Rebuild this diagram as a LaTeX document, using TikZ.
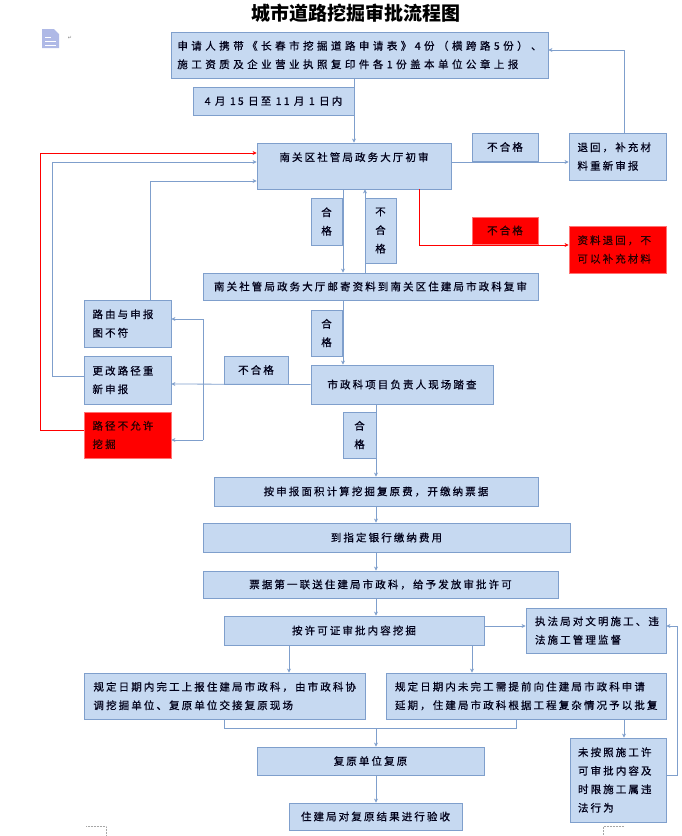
\documentclass[tikz,border=0pt]{standalone}
\usepackage{fontspec}
\setmainfont{Noto Sans CJK SC}
\newfontfamily\cjk{Noto Sans CJK SC}
\newfontfamily\cjkspaced[LetterSpace=20,FakeBold=0.6]{Noto Sans CJK SC}
\newfontfamily\cjkwide[LetterSpace=33,FakeBold=0.6]{Noto Sans CJK SC}
\newfontfamily\symb{DejaVu Sans}
\usetikzlibrary{arrows.meta}
\definecolor{boxfill}{HTML}{C6D9F1}
\definecolor{boxline}{HTML}{7F9FCC}
\definecolor{flowline}{HTML}{7F9FCC}
\definecolor{iconblue}{HTML}{AFB9E6}

\begin{document}
\begin{tikzpicture}[x=1pt,y=-1pt,
    stage/.style={draw=boxline, fill=boxfill, line width=0.8pt, inner sep=0pt,
      font=\cjkspaced\fontsize{10.5}{18.5}\selectfont, text=black!90!blue, align=center},
    alarm/.style={stage, draw=red!55!white, fill=red, text=black!85!red},
    line/.style={draw=flowline, line width=0.8pt},
    flow/.style={line, -{Stealth[length=4pt,width=4pt]}},
    redflow/.style={flow, draw=red},
    cropmark/.style={draw=gray!70, densely dotted, line width=0.5pt}]
    \useasboundingbox (0,0) rectangle (681,836);
    % Title and page icon
    \node[font=\cjk\bfseries\fontsize{19}{22}\selectfont] (title) at (356,13) {城市道路挖掘审批流程图};
    \fill[iconblue] (42,29) -- (54,29) -- (59,34) -- (59,48) -- (42,48) -- cycle;
    \draw[white, line width=1pt] (45,37) -- (51,37) (45,41) -- (56,41) (45,45) -- (56,45);
    \node[font=\symb\fontsize{5}{6}\selectfont, text=gray] (mark) at (70,38) {↵};
    % Application
    \node[stage, font=\cjkwide\fontsize{10.5}{18.5}\selectfont, minimum width=377, minimum height=46, align=left] (apply) at (359.5,55)
      {申请人携带《长春市挖掘道路申请表》4份（横跨路5份）、\\施工资质及企业营业执照复印件各1份盖本单位公章上报};
    \node[stage, minimum width=161, minimum height=28] (period) at (273.5,101) {4 月 15 日至 11 月 1 日内};
    % First check
    \node[stage, minimum width=194, minimum height=46] (firstcheck) at (354,166) {南关区社管局政务大厅初审\\\mbox{}};
    \node[stage, minimum width=66, minimum height=28] (failA) at (505,147) {不合格};
    \node[stage, minimum width=97, minimum height=47, text width=80, align=left] (back) at (617.5,156.5) {退回，补充材\\料重新审报};
    \node[stage, minimum width=31, minimum height=47] (passA) at (326.5,221.5) {合\\格};
    \node[stage, minimum width=31, minimum height=65] (failB) at (380.5,230.5) {不\\合\\格};
    \node[alarm, minimum width=66, minimum height=27] (failC) at (505,230.5) {不合格};
    \node[alarm, minimum width=97, minimum height=47, text width=80, align=left] (reject) at (617.5,249.5) {资料退回，不\\可以补充材料};
    % Review and site visit
    \node[stage, minimum width=335, minimum height=27] (review) at (370.5,286.5) {南关社管局政务大厅邮寄资料到南关区住建局市政科复审};
    \node[stage, minimum width=31, minimum height=46] (passB) at (326.5,333) {合\\格};
    \node[stage, minimum width=182, minimum height=39] (site) at (402,384.5) {市政科项目负责人现场踏查};
    \node[stage, minimum width=64, minimum height=28] (failD) at (256,370) {不合格};
    \node[stage, minimum width=87, minimum height=47, text width=70, align=left] (mismatch) at (127.5,323.5) {路由与申报\\图不符};
    \node[stage, minimum width=87, minimum height=48, text width=70, align=left] (redo) at (127.5,380) {更改路径重\\新申报};
    \node[alarm, minimum width=87, minimum height=46, text width=70, align=left] (forbid) at (127.5,435) {路径不允许\\挖掘};
    \node[stage, minimum width=33, minimum height=46] (passC) at (359.5,435) {合\\格};
    % Fees and permit
    \node[stage, minimum width=324, minimum height=29] (fee) at (376,491.5) {按申报面积计算挖掘复原费，开缴纳票据};
    \node[stage, minimum width=367, minimum height=29] (bank) at (386.5,537.5) {到指定银行缴纳费用};
    \node[stage, minimum width=355, minimum height=27] (permit) at (380.5,584.5) {票据第一联送住建局市政科，给予发放审批许可};
    \node[stage, minimum width=260, minimum height=29] (dig) at (354,630.5) {按许可证审批内容挖掘};
    \node[stage, minimum width=140, minimum height=45, text width=122, align=left] (supervise) at (596,630.5) {执法局对文明施工、违\\法施工管理监督};
    % Completion
    \node[stage, minimum width=281, minimum height=46, text width=262, align=left] (done) at (224.5,696)
      {规定日期内完工上报住建局市政科，由市政科协\\调挖掘单位、复原单位交接复原现场};
    \node[stage, minimum width=280, minimum height=46, text width=262, align=left] (extend) at (526,696)
      {规定日期内未完工需提前向住建局市政科申请\\延期，住建局市政科根据工程复杂情况予以批复};
    \node[stage, minimum width=227, minimum height=28] (restore) at (370.5,761) {复原单位复原};
    \node[stage, minimum width=173, minimum height=27] (accept) at (375.5,816.5) {住建局对复原结果进行验收};
    \node[stage, minimum width=96, minimum height=84, text width=80, align=left] (illegal) at (618,780)
      {未按照施工许\\可审批内容及\\时限施工属违\\法行为};
    % Connectors, top part
    \draw[flow] (apply.south -| firstcheck.north) -- (firstcheck.north);
    \draw[flow] ([yshift=4pt]firstcheck.east) -- ([yshift=4pt]firstcheck.east -| back.west);
    \draw[flow] ([xshift=6.5pt]back.north) |- ([yshift=5pt]apply.east);
    \draw[flow] ([xshift=-11pt]firstcheck.south) -- ([xshift=-11pt]firstcheck.south |- review.north);
    \draw[flow] ([xshift=11pt]firstcheck.south |- review.north) -- ([xshift=11pt]firstcheck.south);
    \draw[redflow] ([xshift=65pt]firstcheck.south) |- ([yshift=4.5pt]reject.west);
    \draw[flow] ([xshift=-27.5pt]review.south) -- ([xshift=-27.5pt]review.south |- site.north);
    % Connectors, site visit failures
    \coordinate (forkup) at (203,319);
    \coordinate (forkdown) at (203,440);
    \draw[flow] (site.west) -- ([yshift=-4pt]redo.east);
    \draw[line] (forkup) -- (forkdown);
    \draw[flow] (forkup) -- (forkup -| mismatch.east);
    \draw[flow] (forkdown) -- (forkdown -| forbid.east);
    \draw[flow] ([xshift=22.5pt]mismatch.north) |- ([yshift=-15pt]firstcheck.west);
    \draw[flow] ([yshift=4pt]redo.west) -- ++(-31,0) |- ([yshift=4pt]firstcheck.west);
    \draw[redflow] ([yshift=5pt]forbid.west) -- ++(-43,0) |- ([yshift=13pt]firstcheck.west);
    % Connectors, main line
    \draw[flow] ([xshift=-26pt]site.south) -- ([xshift=-26pt]site.south |- fee.north);
    \draw[flow] (fee.south) -- (fee.south |- bank.north);
    \draw[flow] (bank.south -| fee.south) -- (permit.north -| fee.south);
    \draw[flow] (permit.south -| fee.south) -- (dig.north -| fee.south);
    \draw[flow] ([yshift=4.5pt]dig.east) -- ([yshift=4.5pt]dig.east -| supervise.west);
    \draw[flow] ([xshift=-65pt]dig.south) -- ([xshift=-65pt]dig.south |- done.north);
    \draw[flow] ([xshift=118pt]dig.south) -- ([xshift=118pt]dig.south |- extend.north);
    \coordinate (join) at (376,728);
    \draw[line] (done.south) |- (join);
    \draw[line] ([xshift=-10pt]extend.south) |- (join);
    \draw[flow] (join) -- (join |- restore.north);
    \draw[flow] (restore.south -| join) -- (accept.north -| join);
    \draw[flow] ([xshift=98pt]extend.south) -- ([xshift=98pt]extend.south |- illegal.north);
    \draw[flow] ([yshift=5pt]illegal.east) -- ++(11,0) |- ([yshift=4.5pt]supervise.east);
    % Page corner marks
    \draw[cropmark] (86,826) -- (106,826) -- (106,836);
    \draw[cropmark] (603,836) -- (603,826) -- (624,826);
\end{tikzpicture}
\end{document}
